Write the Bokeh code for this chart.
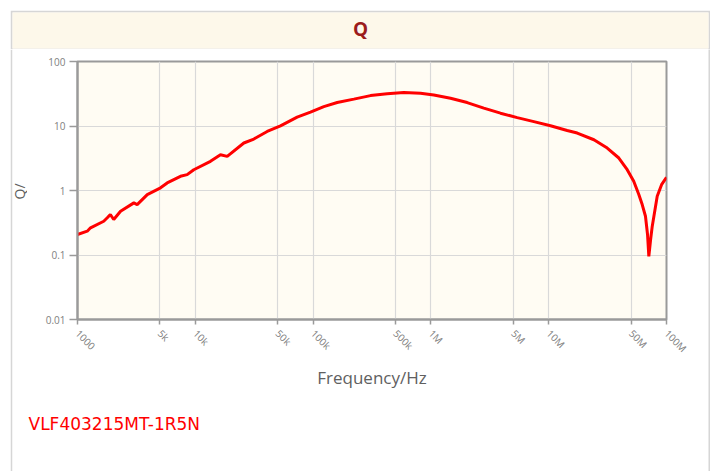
import math
from bokeh.plotting import figure
from bokeh.models import FixedTicker, Label, Range1d, Title
from bokeh.layouts import row, column
from bokeh.embed import file_html
from bokeh.resources import INLINE

# ---- data ----
freq_hz = [1000, 1210, 1290, 1670, 1790, 1900, 2030, 2320, 3010, 3210, 3910,
           5070, 5770, 7480, 8530, 9710, 13450, 16360, 18660, 25820, 31400,
           40760, 52840, 73230, 95000, 123300, 160200, 221800, 307100, 425400,
           588600, 816000, 1059000, 1467000, 2032000, 2813000, 3896000, 5404000,
           7480000, 10360000, 14350000, 17470000, 24200000, 31400000, 39400000,
           46400000, 52700000, 58200000, 62200000, 66300000, 69000000, 70800000,
           73300000, 75700000, 83400000, 90800000, 100000000]
q_values = [0.208, 0.234, 0.264, 0.334, 0.378, 0.425, 0.355, 0.478, 0.643, 0.605,
            0.865, 1.10, 1.31, 1.66, 1.76, 2.10, 2.83, 3.59, 3.38, 5.45, 6.28,
            8.22, 10.07, 13.7, 16.4, 20.0, 23.1, 26.1, 29.6, 31.5, 33.0, 32.2,
            30.3, 27.0, 23.1, 18.9, 15.8, 13.5, 11.7, 10.07, 8.51, 7.77, 6.12,
            4.55, 3.19, 2.10, 1.39, 0.865, 0.605, 0.399, 0.21, 0.095, 0.174,
            0.28, 0.813, 1.23, 1.60]

x_ticks = [1e3, 5e3, 1e4, 5e4, 1e5, 5e5, 1e6, 5e6, 1e7, 5e7, 1e8]
x_tick_labels = ["1000", "5k", "10k", "50k", "100k", "500k", "1M", "5M", "10M", "50M", "100M"]
y_ticks = [0.01, 0.1, 1, 10, 100]
y_tick_labels = ["0.01", "0.1", "1", "10", "100"]

title_text = "Q"
x_label = "Frequency/Hz"
y_label = "Q/"
part_number = "VLF403215MT-1R5N"

BOX = "#d6d6d6"
OUTER_W = 700
MID_H = 422
LEFT_W = 17


def panel_fig(w, h, xr, yr, fill, border_fill=BOX, **borders):
    f = figure(width=w, height=h, output_backend="svg", toolbar_location=None,
               x_axis_location=None, y_axis_location=None,
               x_range=xr, y_range=yr, frame_align=False, **borders)
    f.background_fill_color = fill
    f.border_fill_color = border_fill
    f.outline_line_color = None
    f.grid.visible = False
    return f


def bar(w, h):
    return panel_fig(w, h, Range1d(0, 1), Range1d(0, 1), BOX, min_border=0)


# ---- header band (gray edges come from the border fill) ----
header = panel_fig(OUTER_W, 39, Range1d(0, 696), Range1d(36, 0), "#fdf8ea",
                   min_border_left=2, min_border_right=2,
                   min_border_top=2, min_border_bottom=1)
header.add_layout(Label(x=348, y=16, text=title_text, text_align="center",
                        text_baseline="middle", text_font="Open Sans",
                        text_font_size="19px", text_font_style="bold",
                        text_color="#9b1c1c"))

# ---- left strip with the y axis title ----
left = panel_fig(LEFT_W, MID_H, Range1d(0, LEFT_W - 2), Range1d(MID_H, 0), "white",
                 min_border_left=2, min_border_right=0,
                 min_border_top=0, min_border_bottom=0)
left.add_layout(Label(x=7, y=142, text=y_label, angle=math.pi / 2,
                      text_align="center", text_baseline="middle",
                      text_font="Open Sans", text_font_size="14px",
                      text_color="#606060"))

# ---- main chart ----
main_w = OUTER_W - 2 - LEFT_W          # canvas from x=27 to x=708
p = figure(width=main_w, height=MID_H, x_axis_type="log", y_axis_type="log",
           x_range=(1e3, 1e8), y_range=(0.01, 100),
           output_backend="svg", toolbar_location=None, frame_align=False,
           min_border_left=main_w - 42 - 589, min_border_right=42,
           min_border_top=12, min_border_bottom=MID_H - 12 - 258)

p.background_fill_color = "#fffcf3"
p.border_fill_color = "white"
p.outline_line_color = "#9a9a9a"
p.outline_line_width = 2

p.xaxis.ticker = FixedTicker(ticks=x_ticks)
p.xaxis.major_label_overrides = {t: l for t, l in zip(x_ticks, x_tick_labels)}
p.yaxis.ticker = FixedTicker(ticks=y_ticks)
p.yaxis.major_label_overrides = {t: l for t, l in zip(y_ticks, y_tick_labels)}
p.xgrid.ticker = FixedTicker(ticks=x_ticks)
p.ygrid.ticker = FixedTicker(ticks=y_ticks)

for ax in (p.xaxis, p.yaxis):
    ax.axis_line_color = "#9a9a9a"
    ax.axis_line_width = 2
    ax.major_tick_line_color = "#9a9a9a"
    ax.major_tick_line_width = 1.5
    ax.major_tick_in = 0
    ax.minor_tick_line_color = None
    ax.major_label_text_font = "Open Sans"
    ax.major_label_text_font_size = "10px"
    ax.major_label_text_color = "#808080"
    ax.axis_label_text_font = "Open Sans"
    ax.axis_label_text_font_size = "17px"
    ax.axis_label_text_font_style = "normal"
    ax.axis_label_text_color = "#606060"

p.xaxis.major_tick_out = 5
p.yaxis.major_tick_out = 8
p.xaxis.major_label_orientation = -math.pi / 4
p.xaxis.major_label_standoff = 7
p.yaxis.major_label_standoff = 4
p.xaxis.axis_label = x_label
p.xaxis.axis_label_standoff = 3

p.grid.grid_line_color = "#d9d9d9"
p.grid.grid_line_width = 1.2

p.line(freq_hz, q_values, line_color="#ff0000", line_width=3)

# part number under the chart
p.add_layout(Title(text=part_number, align="left", offset=-49, standoff=41,
                   text_font="DejaVu Sans", text_font_size="17px",
                   text_font_style="normal", text_color="#ff0000"), "below")

layout = column(header,
                row(left, p, bar(2, MID_H), spacing=0),
                bar(OUTER_W, 2),
                spacing=0, margin=(10, 0, 0, 10))

open("out.html", "w").write(file_html(layout, INLINE))
